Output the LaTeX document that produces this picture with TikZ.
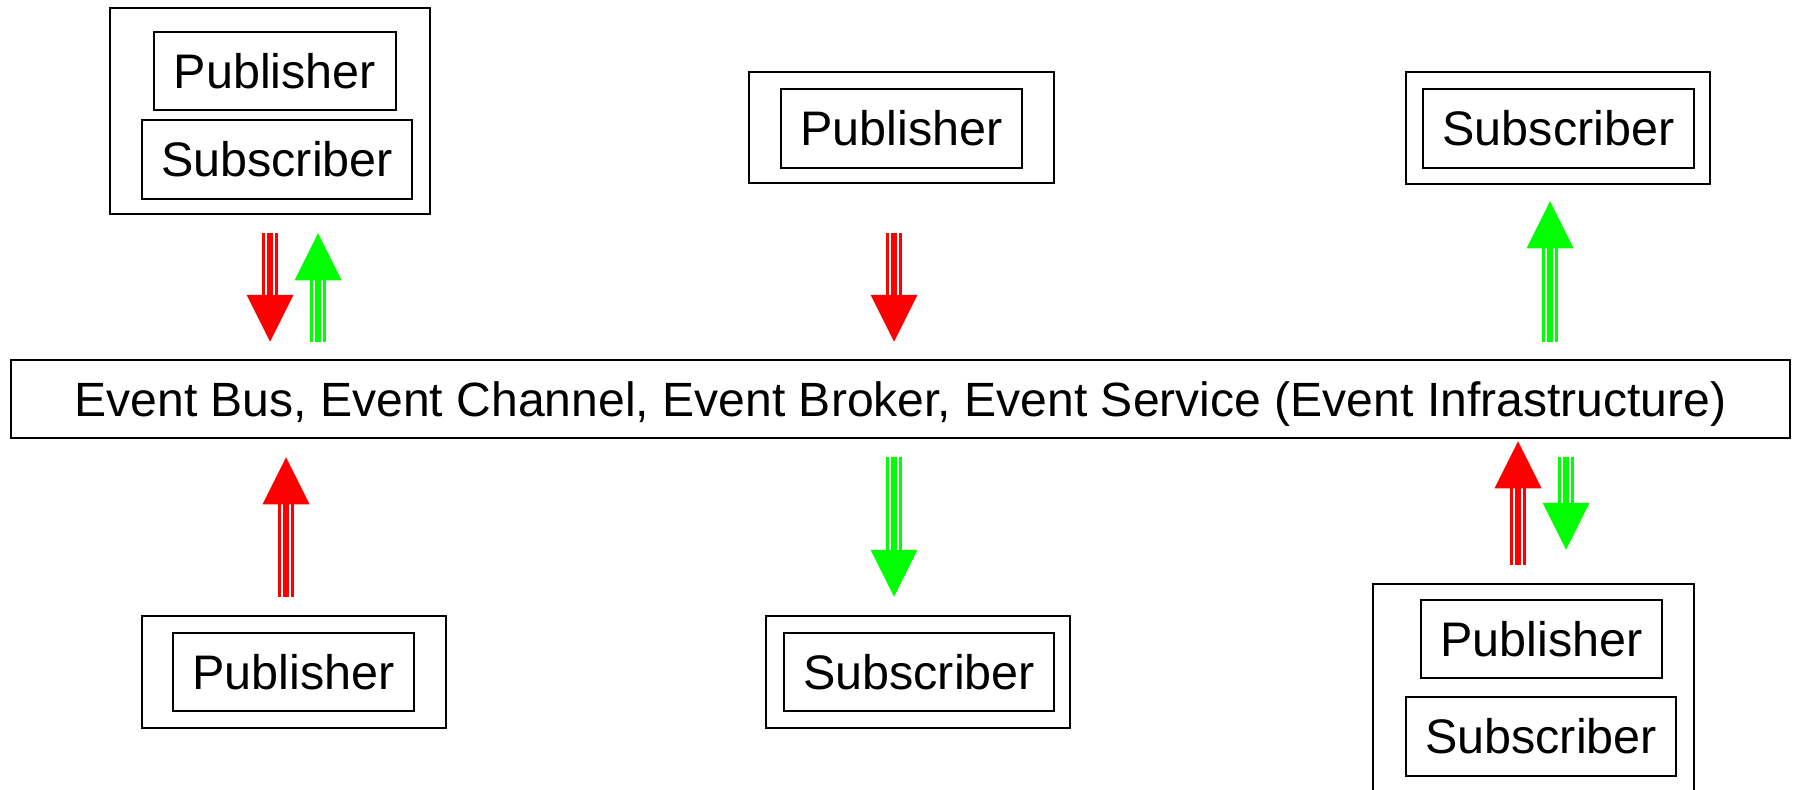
\documentclass[tikz,border=0pt]{standalone}
\usepackage{fontspec}
\setmainfont{Liberation Sans}
\usetikzlibrary{calc}
\definecolor{evred}{RGB}{255,0,0}
\definecolor{evgreen}{RGB}{0,255,0}
\tikzset{
  box/.style={draw=black, line width=2.5pt, inner sep=0pt, anchor=center},
  lbl/.style={box, font=\fontsize{48.5}{58}\selectfont},
  buslbl/.style={box, text depth=0pt, font=\fontsize{48.1}{58}\selectfont},
}
\newcommand{\fatarrow}[3]{%
  \coordinate (hb) at ($(#3)!47pt!(#2)$);
  \draw[line width=16pt,#1] (#2) -- (hb);
  \draw[line width=10pt,white] (#2) -- (hb);
  \draw[line width=6pt,#1] (#2) -- (hb);
  \fill[#1] (#3) -- ($(hb)!23.5pt!90:(#3)$) -- ($(hb)!23.5pt!-90:(#3)$) -- cycle;
}
\begin{document}
\begin{tikzpicture}[x=1pt,y=-1pt]
\useasboundingbox (0,0) rectangle (1797,790);
% outer boxes
\node[box, minimum width=320pt, minimum height=206pt] (tl) at (270,111) {};
\node[box, minimum width=305pt, minimum height=111pt] (tm) at (901.5,127.5) {};
\node[box, minimum width=304pt, minimum height=112pt] (tr) at (1558,128) {};
\node[box, minimum width=304pt, minimum height=112pt] (bl) at (294,672) {};
\node[box, minimum width=304pt, minimum height=112pt] (bm) at (918,672) {};
\node[box, minimum width=321pt, minimum height=216pt] (br) at (1533.5,692) {};
% inner boxes
\node[lbl, minimum width=242pt, minimum height=78pt] (tlp) at (275,71) {Publisher};
\node[lbl, minimum width=270pt, minimum height=79pt] (tls) at (277,159.5) {Subscriber};
\node[lbl, minimum width=241pt, minimum height=79pt] (tmp) at (901.5,128.5) {Publisher};
\node[lbl, minimum width=271pt, minimum height=79pt] (trs) at (1558.5,128.5) {Subscriber};
\node[lbl, minimum width=241pt, minimum height=78pt] (blp) at (293.5,672) {Publisher};
\node[lbl, minimum width=270pt, minimum height=78pt] (bms) at (919,672) {Subscriber};
\node[lbl, minimum width=241pt, minimum height=78pt] (brp) at (1541.5,639) {Publisher};
\node[lbl, minimum width=270pt, minimum height=79pt] (brs) at (1541,736.5) {Subscriber};
% bus
\node[buslbl, minimum width=1779pt, minimum height=78pt] (bus) at (900.5,399) {Event Bus, Event Channel, Event Broker, Event Service (Event Infrastructure)};
% arrow end points
\coordinate (a1s) at ($(tl.south)+(0,18)$);
\coordinate (a1e) at ($(bus.north -| tl.south)+(0,-17)$);
\coordinate (a2s) at ($(bus.north -| tl.south)+(48,-17)$);
\coordinate (a2e) at ($(tl.south)+(48,18)$);
\coordinate (a3s) at ($(tm.south)+(-7.5,49)$);
\coordinate (a3e) at ($(bus.north -| tm.south)+(-7.5,-17)$);
\coordinate (a4s) at ($(bus.north -| tr.south)+(-8,-17)$);
\coordinate (a4e) at ($(tr.south)+(-8,16)$);
\coordinate (a5s) at ($(bl.north)+(-8,-18)$);
\coordinate (a5e) at ($(bus.south -| bl.north)+(-8,18)$);
\coordinate (a6s) at ($(bus.south -| bm.north)+(-24,18)$);
\coordinate (a6e) at ($(bm.north)+(-24,-18)$);
\coordinate (a7s) at ($(br.north)+(-15.5,-18)$);
\coordinate (a7e) at ($(bus.south -| br.north)+(-15.5,2)$);
\coordinate (a8s) at ($(bus.south -| br.north)+(32.5,18)$);
\coordinate (a8e) at ($(br.north)+(32.5,-33)$);
% arrows
\fatarrow{evred}{a1s}{a1e}
\fatarrow{evgreen}{a2s}{a2e}
\fatarrow{evred}{a3s}{a3e}
\fatarrow{evgreen}{a4s}{a4e}
\fatarrow{evred}{a5s}{a5e}
\fatarrow{evgreen}{a6s}{a6e}
\fatarrow{evred}{a7s}{a7e}
\fatarrow{evgreen}{a8s}{a8e}
\end{tikzpicture}
\end{document}
